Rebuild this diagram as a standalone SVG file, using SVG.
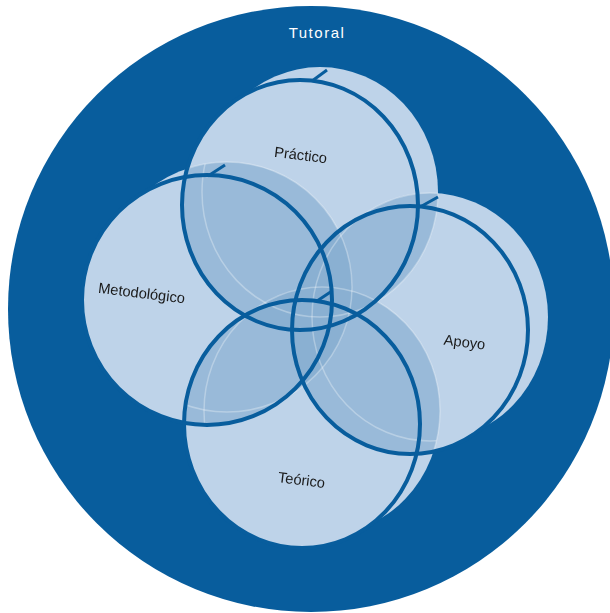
<svg xmlns="http://www.w3.org/2000/svg" width="610" height="613" viewBox="0 0 610 613">
  <style>
    .fill { fill: #bed3e9; }
    .edge { fill: none; stroke: #085d9d; stroke-width: 4; }
    .rim { stroke: #085d9d; stroke-width: 3; stroke-linecap: butt; }
    .hl { fill: none; stroke: #ffffff; stroke-width: 1.5; stroke-opacity: 0.3; }
    .lbl { font-family: "Liberation Sans", Arial, sans-serif; font-size: 14.7px; fill: #1a1a1a; text-anchor: middle; }
    .title { font-family: "Liberation Sans", Arial, sans-serif; font-size: 15px; fill: #ffffff; text-anchor: middle; letter-spacing: 1.5px; }
  </style>
  <defs>
    <ellipse id="fP" cx="300" cy="205" rx="118" ry="125"/>
    <ellipse id="bP" cx="320" cy="192" rx="118" ry="125"/>
    <ellipse id="fM" cx="207" cy="300" rx="125" ry="125"/>
    <ellipse id="bM" cx="227" cy="287" rx="125" ry="125"/>
    <ellipse id="fA" cx="410" cy="330" rx="118" ry="124"/>
    <ellipse id="bA" cx="430" cy="317" rx="118" ry="124"/>
    <ellipse id="fT" cx="302" cy="424" rx="118" ry="124"/>
    <ellipse id="bT" cx="322" cy="411" rx="118" ry="124"/>
    <clipPath id="cP"><use href="#fP"/><use href="#bP"/></clipPath>
    <clipPath id="cM"><use href="#fM"/><use href="#bM"/></clipPath>
    <clipPath id="cA"><use href="#fA"/><use href="#bA"/></clipPath>
    <clipPath id="cT"><use href="#fT"/><use href="#bT"/></clipPath>
    <clipPath id="oP"><use href="#fM"/><use href="#bM"/><use href="#fA"/><use href="#bA"/><use href="#fT"/><use href="#bT"/></clipPath>
    <clipPath id="oM"><use href="#fP"/><use href="#bP"/><use href="#fA"/><use href="#bA"/><use href="#fT"/><use href="#bT"/></clipPath>
    <clipPath id="oA"><use href="#fP"/><use href="#bP"/><use href="#fM"/><use href="#bM"/><use href="#fT"/><use href="#bT"/></clipPath>
    <clipPath id="oT"><use href="#fP"/><use href="#bP"/><use href="#fM"/><use href="#bM"/><use href="#fA"/><use href="#bA"/></clipPath>
  </defs>

  <g id="tutoral">
    <circle cx="311" cy="309" r="303" fill="#085d9d"/>
    <text class="title" x="317" y="38">Tutoral</text>
  </g>

  <g id="discs">
    <use href="#bP" class="fill"/><use href="#fP" class="fill"/>
    <use href="#bM" class="fill"/><use href="#fM" class="fill"/>
    <use href="#bA" class="fill"/><use href="#fA" class="fill"/>
    <use href="#bT" class="fill"/><use href="#fT" class="fill"/>
  </g>

  <g id="overlaps" fill="#085d9d">
    <g opacity="0.2">
      <g clip-path="url(#cM)"><rect width="610" height="613" clip-path="url(#cP)"/></g>
      <g clip-path="url(#cA)"><rect width="610" height="613" clip-path="url(#cP)"/></g>
      <g clip-path="url(#cT)"><rect width="610" height="613" clip-path="url(#cP)"/></g>
      <g clip-path="url(#cA)"><rect width="610" height="613" clip-path="url(#cM)"/></g>
      <g clip-path="url(#cT)"><rect width="610" height="613" clip-path="url(#cM)"/></g>
      <g clip-path="url(#cT)"><rect width="610" height="613" clip-path="url(#cA)"/></g>
    </g>
    <g opacity="0.1">
      <g clip-path="url(#cA)"><g clip-path="url(#cM)"><rect width="610" height="613" clip-path="url(#cP)"/></g></g>
      <g clip-path="url(#cT)"><g clip-path="url(#cM)"><rect width="610" height="613" clip-path="url(#cP)"/></g></g>
      <g clip-path="url(#cT)"><g clip-path="url(#cA)"><rect width="610" height="613" clip-path="url(#cP)"/></g></g>
      <g clip-path="url(#cT)"><g clip-path="url(#cA)"><rect width="610" height="613" clip-path="url(#cM)"/></g></g>
    </g>
  </g>

  <g id="highlights">
    <use href="#bP" class="hl" clip-path="url(#oP)"/>
    <use href="#bM" class="hl" clip-path="url(#oM)"/>
    <use href="#bA" class="hl" clip-path="url(#oA)"/>
    <use href="#bT" class="hl" clip-path="url(#oT)"/>
  </g>

  <g id="practico">
    <use href="#fP" class="edge"/>
    <line class="rim" x1="312" y1="81" x2="327" y2="70"/>
    <text class="lbl" x="300" y="160" transform="rotate(7 300 160)">Práctico</text>
  </g>
  <g id="metodologico">
    <use href="#fM" class="edge"/>
    <line class="rim" x1="208" y1="176" x2="225" y2="165"/>
    <text class="lbl" x="141" y="298" transform="rotate(7 141 298)">Metodológico</text>
  </g>
  <g id="apoyo">
    <use href="#fA" class="edge"/>
    <line class="rim" x1="420" y1="207" x2="438" y2="197"/>
    <text class="lbl" x="464" y="347" transform="rotate(7 464 347)">Apoyo</text>
  </g>
  <g id="teorico">
    <use href="#fT" class="edge"/>
    <line class="rim" x1="317" y1="301" x2="332" y2="291"/>
    <text class="lbl" x="301" y="485" transform="rotate(7 301 485)">Teórico</text>
  </g>
</svg>
